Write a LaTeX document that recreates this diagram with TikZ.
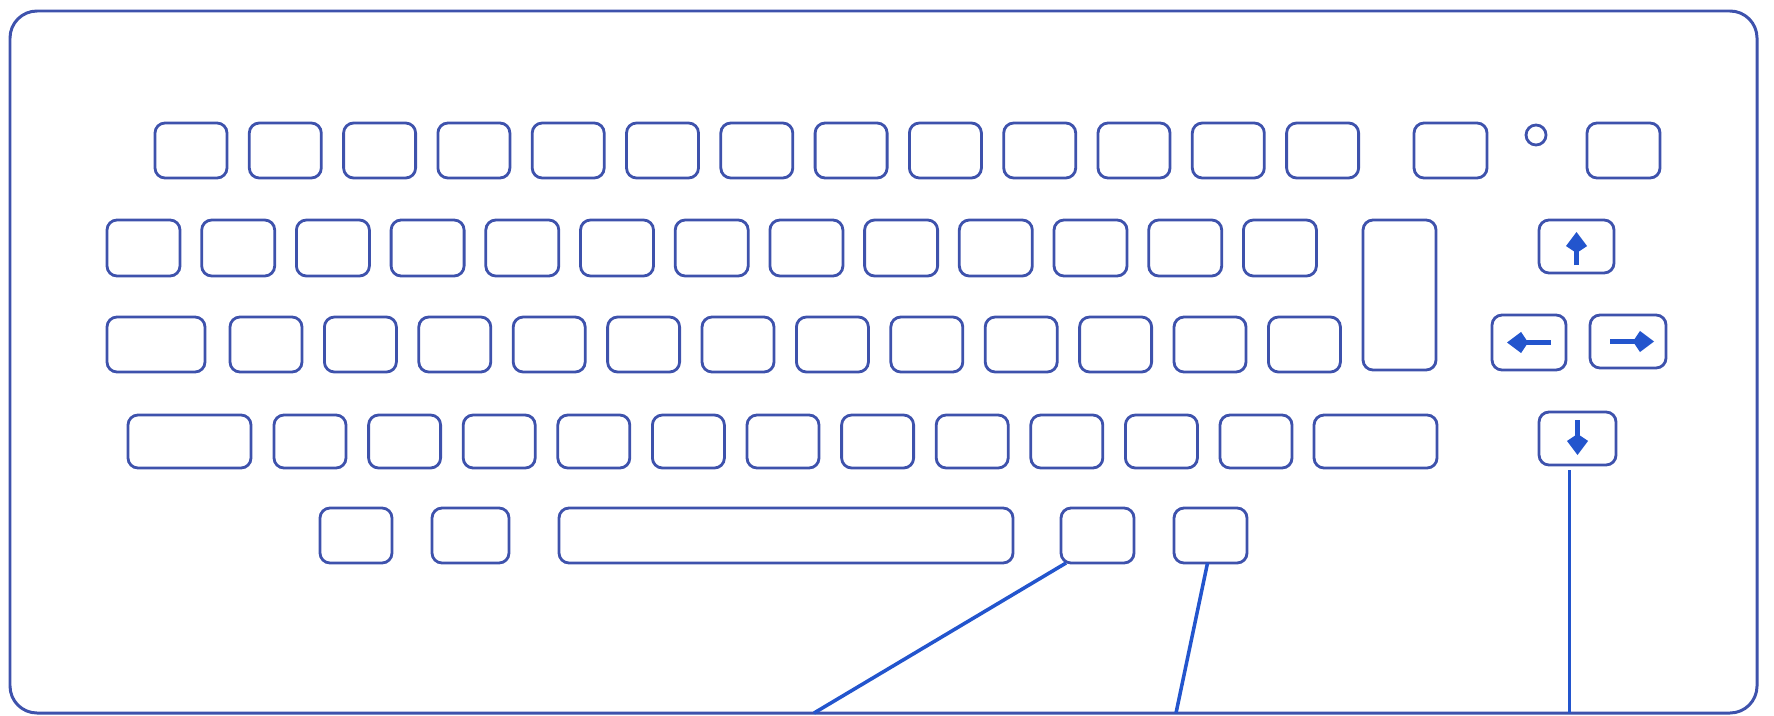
\documentclass[tikz,border=0pt]{standalone}
\usetikzlibrary{arrows.meta,calc}
\definecolor{keyblue}{RGB}{62,82,172}
\definecolor{lineblue}{RGB}{35,85,205}
\newcommand\kbox[5]{\node[keybox, minimum width={(#4-(#2))*0.01cm}, minimum height={(#5-(#3))*0.01cm}] (#1) at ({(#2+#4)/2},{(#3+#5)/2}) {};}
\begin{document}
\begin{tikzpicture}[x=0.01cm,y=-0.01cm,
  keybox/.style={draw=keyblue, line width=0.8pt, rounded corners=0.1cm, inner sep=0pt, outer sep=0pt},
  board/.style={draw=keyblue, line width=0.85pt, rounded corners=0.27cm},
  link/.style={draw=lineblue, line width=1pt},
  vlink/.style={draw=lineblue, line width=0.7pt},
  glyph/.style={draw=lineblue, line width=1.6pt, -{Kite[length=6pt,width=6pt,inset=2pt]}}]
\useasboundingbox (0,0) rectangle (1774,715);
% housing
\draw[board] (10,11) rectangle (1757,713);
% row 1
\foreach \i in {1,...,13}{
  \pgfmathsetmacro\xa{155+(\i-1)*94.3}\pgfmathsetmacro\xb{\xa+72}
  \kbox{r1k\i}{\xa}{123}{\xb}{178}}
\kbox{r1k14}{1414}{123}{1487}{178}
\node[draw=keyblue, line width=0.8pt, circle, minimum size=0.2cm, inner sep=0pt] (led) at (1536,135) {};
\kbox{r1k15}{1587}{123}{1660}{178}
% row 2
\foreach \i in {1,...,13}{
  \pgfmathsetmacro\xa{107+(\i-1)*94.7}\pgfmathsetmacro\xb{\xa+73}
  \kbox{r2k\i}{\xa}{220}{\xb}{276}}
\kbox{enter}{1363}{220}{1436}{370}
\kbox{up}{1539}{220}{1614}{273}
% row 3
\kbox{r3k0}{107}{317}{205}{372}
\foreach \i in {1,...,12}{
  \pgfmathsetmacro\xa{230+(\i-1)*94.4}\pgfmathsetmacro\xb{\xa+72}
  \kbox{r3k\i}{\xa}{317}{\xb}{372}}
\kbox{left}{1492}{315}{1566}{370}
\kbox{right}{1590}{315}{1666}{368}
% row 4
\kbox{r4k0}{128}{415}{251}{468}
\foreach \i in {1,...,11}{
  \pgfmathsetmacro\xa{274+(\i-1)*94.6}\pgfmathsetmacro\xb{\xa+72}
  \kbox{r4k\i}{\xa}{415}{\xb}{468}}
\kbox{r4k12}{1314}{415}{1437}{468}
\kbox{down}{1539}{412}{1616}{465}
% row 5
\kbox{k5a}{320}{508}{392}{563}
\kbox{k5b}{432}{508}{509}{563}
\kbox{space}{559}{508}{1013}{563}
\kbox{k5d}{1061}{508}{1134}{563}
\kbox{k5e}{1174}{508}{1247}{563}
% arrow glyphs
\draw[glyph] ($(up.south)+(0,-8)$) -- ($(up.north)+(0,12)$);
\draw[glyph] ($(left.east)+(-15,0)$) -- ($(left.west)+(15,0)$);
\draw[glyph] ($(right.west)+(20,0)$) -- ($(right.east)+(-12,0)$);
\draw[glyph] ($(down.north)+(0,8)$) -- ($(down.south)+(0,-10)$);
% leader lines
\coordinate (cA) at (814,713);
\coordinate (cB) at (1176,713);
\coordinate (cC) at (1569.5,713);
\draw[link] ($(k5d.south west)+(5,0)$) -- (cA);
\draw[link] ($(k5e.south)+(-3,0)$) -- (cB);
\draw[vlink] ($(down.south)+(-8,5)$) -- (cC);
\end{tikzpicture}
\end{document}
